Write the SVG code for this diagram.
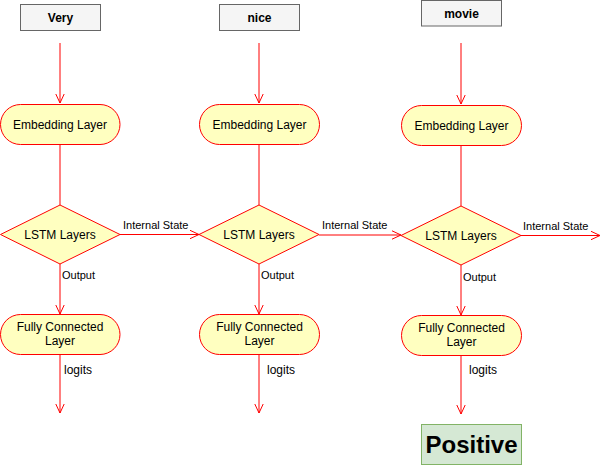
<svg xmlns="http://www.w3.org/2000/svg" width="612" height="466" viewBox="0 0 612 466">
<defs>
<style>
text{font-family:"Liberation Sans",Arial,Helvetica,sans-serif;fill:#000}
.in{fill:#f5f5f5;stroke:#666666;stroke-width:1}
.nd{fill:#ffffc0;stroke:#ff0000;stroke-width:1}
.e{stroke:#ff0000;stroke-width:1;fill:none}
.a{marker-end:url(#open)}
.t12{font-size:12px;text-anchor:middle}
.tb{font-size:12px;font-weight:bold;text-anchor:middle}
.l11{font-size:11px}
.l12{font-size:12px}
</style>
<marker id="open" viewBox="0 0 10 10" refX="9.5" refY="5" markerWidth="10" markerHeight="10" markerUnits="userSpaceOnUse" orient="auto">
<path d="M0.5,0.8 L9.5,5 L0.5,9.2" fill="none" stroke="#ff0000" stroke-width="1"/>
</marker>
</defs>
<rect width="612" height="466" fill="#ffffff"/>
<g id="connectors">
<line class="e a" x1="60" y1="43" x2="60" y2="103"/>
<line class="e" x1="60" y1="144" x2="60" y2="205"/>
<line class="e a" x1="120" y1="234.5" x2="199" y2="234.5"/>
<line class="e a" x1="60" y1="264" x2="60" y2="314"/>
<line class="e a" x1="60" y1="354" x2="60" y2="413"/>
<line class="e a" x1="259" y1="43" x2="259" y2="103"/>
<line class="e" x1="259" y1="144" x2="259" y2="205"/>
<line class="e a" x1="319" y1="235" x2="401" y2="235"/>
<line class="e a" x1="259" y1="264" x2="259" y2="314"/>
<line class="e a" x1="259" y1="354" x2="259" y2="413"/>
<line class="e a" x1="461" y1="43" x2="461" y2="104"/>
<line class="e" x1="461" y1="145" x2="461" y2="206"/>
<line class="e a" x1="521" y1="235.5" x2="600" y2="235.5"/>
<line class="e a" x1="461" y1="265" x2="461" y2="315"/>
<line class="e a" x1="461" y1="355" x2="461" y2="414"/>
<text class="l11" x="123" y="229">Internal State</text>
<text class="l11" x="62" y="279">Output</text>
<text class="l12" x="64" y="374">logits</text>
<text class="l11" x="322" y="229">Internal State</text>
<text class="l11" x="261" y="279">Output</text>
<text class="l12" x="267" y="374">logits</text>
<text class="l11" x="523" y="230">Internal State</text>
<text class="l11" x="463" y="281">Output</text>
<text class="l12" x="469" y="374">logits</text>
</g>
<g id="in-very"><rect class="in" x="20.5" y="4.5" width="80" height="26"/><text class="tb" x="60.5" y="22">Very</text></g>
<g id="in-nice"><rect class="in" x="219.5" y="4.5" width="80" height="26"/><text class="tb" x="259.5" y="22">nice</text></g>
<g id="in-movie"><rect class="in" x="421.5" y="0.5" width="80" height="25.5"/><text class="tb" x="461.5" y="18">movie</text></g>
<g id="emb1"><rect class="nd" x="0.5" y="104.5" width="119.5" height="40" rx="20" ry="20"/><text class="t12" x="60" y="129">Embedding Layer</text></g>
<g id="emb2"><rect class="nd" x="199.5" y="104.5" width="120" height="40" rx="20" ry="20"/><text class="t12" x="259.5" y="129">Embedding Layer</text></g>
<g id="emb3"><rect class="nd" x="401.5" y="105.5" width="120" height="40" rx="20" ry="20"/><text class="t12" x="461.5" y="130">Embedding Layer</text></g>
<g id="lstm1"><polygon class="nd" points="60,205 120,234.5 60,264 0.5,234.5"/><text class="t12" x="60" y="239">LSTM Layers</text></g>
<g id="lstm2"><polygon class="nd" points="259,205 319,234.5 259,264 199,234.5"/><text class="t12" x="259" y="239">LSTM Layers</text></g>
<g id="lstm3"><polygon class="nd" points="461,206 521,235.5 461,265 401,235.5"/><text class="t12" x="461" y="240">LSTM Layers</text></g>
<g id="fc1"><rect class="nd" x="0.5" y="314.5" width="119.5" height="40" rx="20" ry="20"/><text class="t12" x="60" y="331">Fully Connected</text><text class="t12" x="60" y="345">Layer</text></g>
<g id="fc2"><rect class="nd" x="199.5" y="314.5" width="120" height="40" rx="20" ry="20"/><text class="t12" x="259.5" y="331">Fully Connected</text><text class="t12" x="259.5" y="345">Layer</text></g>
<g id="fc3"><rect class="nd" x="401.5" y="315.5" width="120" height="40" rx="20" ry="20"/><text class="t12" x="461.5" y="332">Fully Connected</text><text class="t12" x="461.5" y="346">Layer</text></g>
<g id="positive"><rect x="421.5" y="424.5" width="100" height="40" fill="#d5e8d4" stroke="#82b366"/><text x="471.5" y="453" font-size="24" font-weight="bold" text-anchor="middle">Positive</text></g>
</svg>
